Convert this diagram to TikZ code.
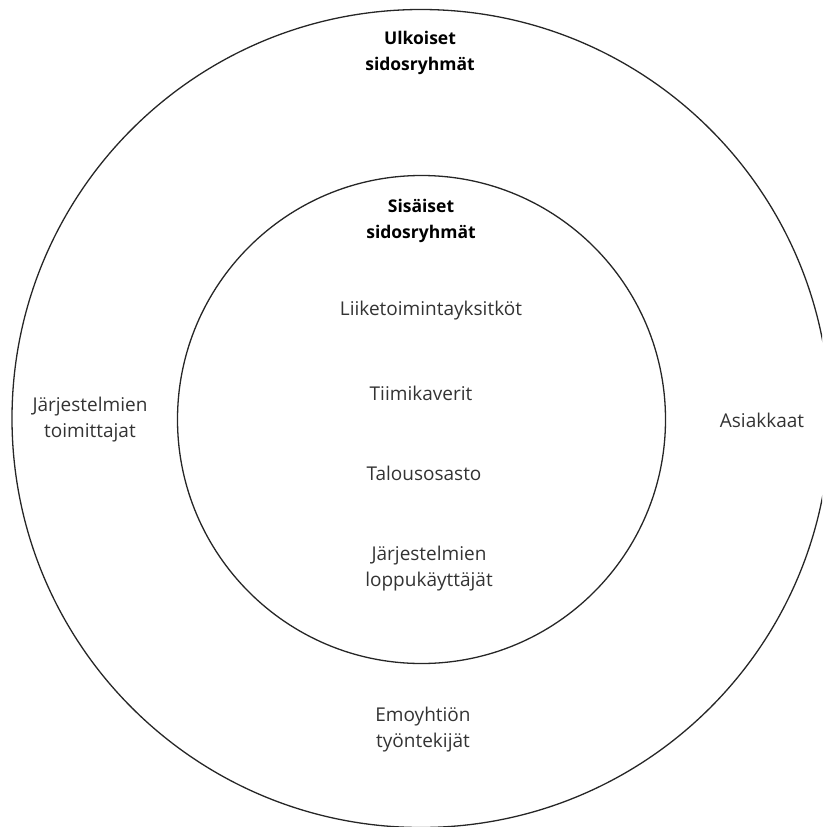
\documentclass[tikz,border=0pt]{standalone}
\usepackage{fontspec}
\setmainfont{Open Sans}
\begin{document}
\begin{tikzpicture}[x=1pt,y=-1pt,
  lbl/.style={font=\fontsize{19}{26}\selectfont, text=black!80, align=center, inner sep=0pt},
  hd/.style={font=\fontsize{17.5}{26}\selectfont\bfseries, text=black, align=center, inner sep=0pt},
  ring/.style={circle, draw=black!85, line width=1.3pt, inner sep=0pt}]
\useasboundingbox (0,0) rectangle (822,827);
\clip (0,0) rectangle (822,827);
\node[ring, minimum size=818pt] (outer) at (421,418.5) {};
\node[ring, minimum size=488pt] (inner) at (421.5,419.5) {};
\node[hd] (ulk) at (420,53) {Ulkoiset\\sidosryhmät};
\node[hd] (sis) at (421,221) {Sisäiset\\sidosryhmät};
\node[lbl] (liike) at (431,311) {Liiketoimintayksitköt};
\node[lbl] (tiimi) at (421,393) {Tiimikaverit};
\node[lbl] (talous) at (424,473) {Talousosasto};
\node[lbl] (loppu) at (429,569) {Järjestelmien\\loppukäyttäjät};
\node[lbl] (emo) at (423,730) {Emoyhtiön\\työntekijät};
\node[lbl] (toim) at (90,420) {Järjestelmien\\toimittajat};
\node[lbl] (asiak) at (762,420) {Asiakkaat};
\end{tikzpicture}
\end{document}
